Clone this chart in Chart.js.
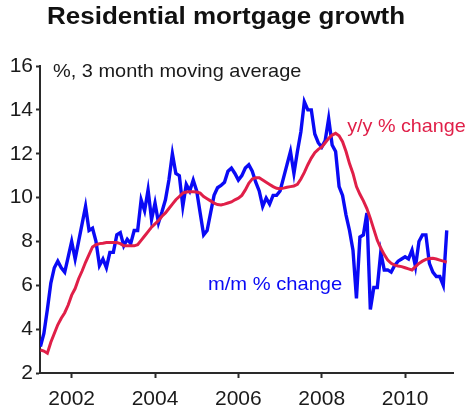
<!DOCTYPE html>
<html>
<head>
<meta charset="utf-8">
<script src="https://cdn.jsdelivr.net/npm/chart.js@4/dist/chart.umd.min.js"></script>
<style>
  html, body { margin: 0; padding: 0; background: #fff; }
  canvas { display: block; }
</style>
</head>
<body>
<canvas id="mortgageChart" width="468" height="411"></canvas>
<script>
// Monthly series, April 2001 to January 2011
const startYear = 2001.25;
const yTicks = [2, 4, 6, 8, 10, 12, 14, 16];
const xTicks = [2002, 2004, 2006, 2008, 2010];

// m/m % change, 3 month moving average (annualised)
const monthlyChange = [
  3.2, 3.8, 4.9, 6.1, 6.8, 7.1, 6.8, 6.6, 7.3, 8.0,
  7.2, 8.0, 8.8, 9.6, 8.5, 8.6, 8.0, 6.9, 7.2, 6.8,
  7.5, 7.5, 8.3, 8.4, 7.8, 8.1, 7.9, 8.5, 8.5, 9.9,
  9.4, 10.35, 9.0, 9.75, 8.85, 9.35, 9.9, 10.8, 12.0, 11.1,
  11.0, 9.6, 10.6, 10.3, 10.8, 10.3, 9.3, 8.3, 8.5, 9.3,
  10.1, 10.45, 10.55, 10.7, 11.2, 11.34, 11.1, 10.8, 11.0, 11.35,
  11.5, 11.2, 10.7, 10.3, 9.6, 9.98, 9.7, 10.1, 10.1, 10.3,
  10.9, 11.5, 12.1, 11.1, 12.1, 13.0, 14.37, 14.0, 14.0, 12.9,
  12.5, 12.3, 12.6, 13.6, 12.4, 12.1, 10.5, 10.1, 9.2, 8.5,
  7.6, 5.4, 8.2, 8.3, 9.3, 4.9, 5.9, 5.9, 7.5, 6.7,
  6.7, 6.6, 6.9, 7.1, 7.2, 7.3, 7.2, 7.6, 6.85, 8.0,
  8.3, 8.3, 7.0, 6.6, 6.4, 6.4, 6.0, 8.5
];

// y/y % change
const annualChange = [
  3.05, 3.0, 2.9, 3.4, 3.8, 4.2, 4.5, 4.75, 5.1, 5.55,
  5.85, 6.3, 6.65, 7.05, 7.4, 7.75, 7.85, 7.9, 7.92, 7.95,
  7.95, 7.95, 7.95, 7.9, 7.8, 7.8, 7.8, 7.8, 7.85, 8.05,
  8.25, 8.45, 8.65, 8.8, 8.95, 9.15, 9.3, 9.5, 9.7, 9.9,
  10.05, 10.2, 10.25, 10.27, 10.27, 10.25, 10.2, 10.05, 9.95, 9.85,
  9.75, 9.68, 9.66, 9.7, 9.75, 9.8, 9.9, 9.97, 10.1, 10.35,
  10.65, 10.85, 10.9, 10.9, 10.8, 10.7, 10.6, 10.5, 10.42, 10.4,
  10.43, 10.47, 10.5, 10.53, 10.6, 10.85, 11.15, 11.5, 11.8, 12.05,
  12.2, 12.3, 12.5, 12.7, 12.85, 12.93, 12.82, 12.55, 12.1, 11.55,
  11.1, 10.5, 10.15, 9.85, 9.5, 9.05, 8.55, 8.05, 7.7, 7.4,
  7.15, 7.0, 6.92, 6.88, 6.85, 6.8, 6.75, 6.7, 6.85, 7.0,
  7.1, 7.18, 7.22, 7.23, 7.2, 7.15, 7.1, 7.05
];

const toPoints = (arr) => arr.map((v, i) => ({ x: startYear + i / 12, y: v }));

const blue = "#0a0af5";
const red = "#e01f48";
const axisColor = "#2a2a2a";
const fontFamily = "'Liberation Sans', Arial, sans-serif";

// draws text stretched a little wider than the font's own width
function wideText(ctx, text, x, y, stretch) {
  ctx.save();
  ctx.translate(x, y);
  ctx.scale(stretch, 1);
  ctx.fillText(text, 0, 0);
  ctx.restore();
}

// titles and series labels drawn on top of the chart
const textPlugin = {
  id: "chartText",
  afterDraw(chart) {
    const ctx = chart.ctx;
    const xs = chart.scales.x;
    const ys = chart.scales.y;
    ctx.save();
    ctx.textBaseline = "middle";
    ctx.textAlign = "left";

    ctx.fillStyle = "#111";
    ctx.font = "bold 23px " + fontFamily;
    wideText(ctx, "Residential mortgage growth", 47, 18, 1.13);

    ctx.fillStyle = "#1a1a1a";
    ctx.font = "19px " + fontFamily;
    wideText(ctx, "%, 3 month moving average", 53, 72, 1.05);

    ctx.font = "19px " + fontFamily;
    ctx.fillStyle = red;
    wideText(ctx, "y/y % change", xs.getPixelForValue(2008.61), ys.getPixelForValue(13.22), 1.04);

    ctx.fillStyle = blue;
    wideText(ctx, "m/m % change", xs.getPixelForValue(2005.27), ys.getPixelForValue(6.01), 1.06);
    ctx.restore();
  },
};

new Chart(document.getElementById("mortgageChart"), {
  type: "line",
  data: {
    datasets: [
      {
        label: "y/y % change",
        data: toPoints(annualChange),
        borderColor: red,
        borderWidth: 3,
        pointRadius: 0,
        tension: 0,
      },
      {
        label: "m/m % change",
        data: toPoints(monthlyChange),
        borderColor: blue,
        borderWidth: 3.4,
        pointRadius: 0,
        tension: 0,
      },
    ],
  },
  options: {
    responsive: false,
    animation: false,
    layout: { padding: { top: 66, right: 15, left: 0, bottom: 0 } },
    plugins: {
      legend: { display: false },
      tooltip: { enabled: false },
    },
    scales: {
      x: {
        type: "linear",
        min: 2001.24,
        max: 2011.15,
        afterFit: (s) => { s.height = 38; },
        afterBuildTicks: (s) => { s.ticks = xTicks.map((v) => ({ value: v })); },
        grid: { drawOnChartArea: false, drawTicks: true, tickLength: 5, tickColor: axisColor, tickWidth: 2 },
        border: { display: true, color: axisColor, width: 2 },
        ticks: {
          color: "#1a1a1a",
          font: { family: fontFamily, size: 21 },
          padding: 9,
          maxRotation: 0,
          callback: (v) => String(v),
        },
      },
      y: {
        min: 2,
        max: 16,
        afterFit: (s) => { s.width = 40; },
        afterBuildTicks: (s) => { s.ticks = yTicks.map((v) => ({ value: v })); },
        grid: { drawOnChartArea: false, drawTicks: true, tickLength: 4, tickColor: axisColor, tickWidth: 2 },
        border: { display: true, color: axisColor, width: 2 },
        ticks: {
          color: "#1a1a1a",
          font: { family: fontFamily, size: 21 },
          padding: 3,
          callback: (v) => String(v),
        },
      },
    },
  },
  plugins: [textPlugin],
});
</script>
</body>
</html>
